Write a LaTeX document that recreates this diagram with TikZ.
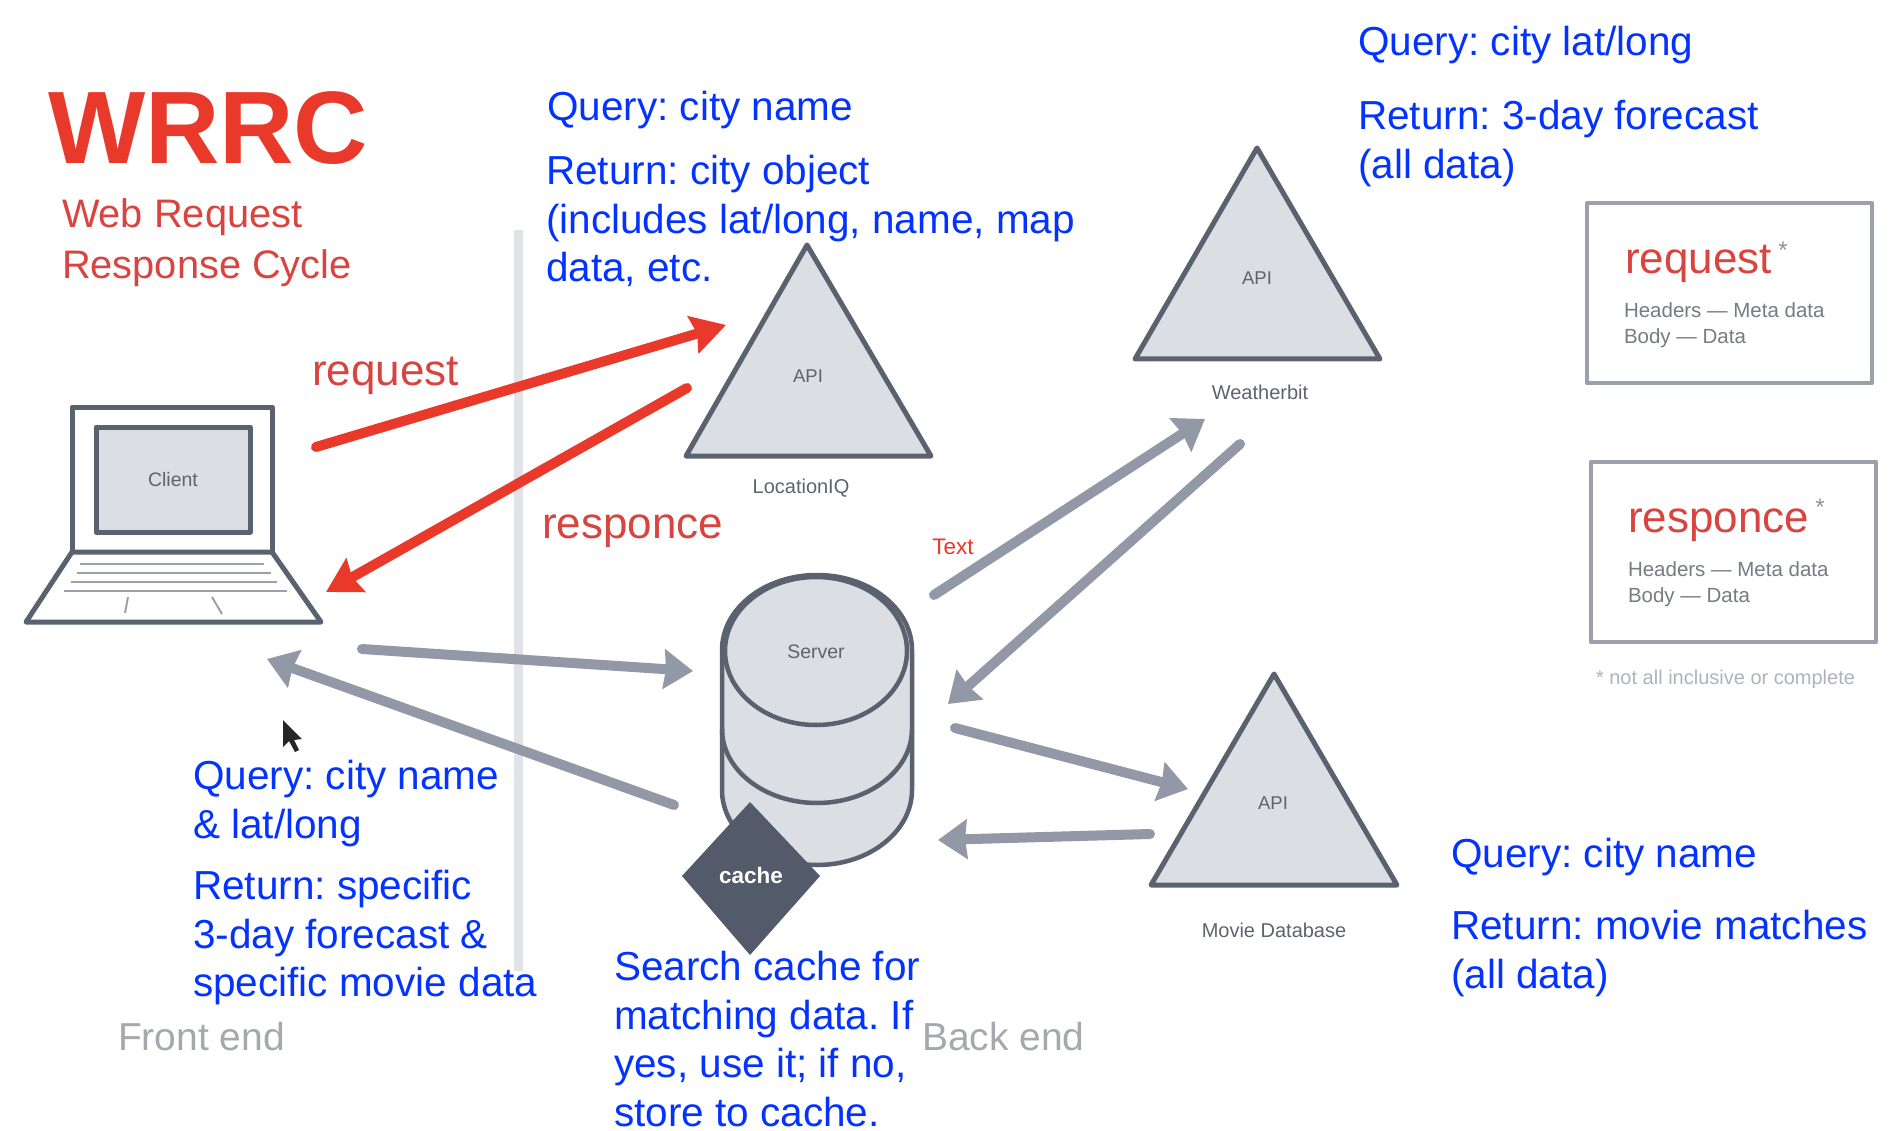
\documentclass[tikz,border=0pt]{standalone}
\usepackage{fontspec}
\setmainfont{Liberation Sans}
\usetikzlibrary{arrows.meta}
\definecolor{qblue}{HTML}{0433FF}
\definecolor{wred}{HTML}{E8392A}
\definecolor{sred}{HTML}{D8443F}
\definecolor{outline}{HTML}{5A6270}
\definecolor{shapefill}{HTML}{DBDEE2}
\definecolor{dividergray}{HTML}{E1E3E7}
\definecolor{arrowgray}{HTML}{9298A5}
\definecolor{dark}{HTML}{535B6B}
\definecolor{labelgray}{HTML}{5F646C}
\definecolor{sidegray}{HTML}{A5A8AD}
\definecolor{boxgray}{HTML}{9AA0AC}
\newcommand{\fsz}[1]{\fontsize{#1}{#1}\selectfont}
\frenchspacing
\tikzset{
  txt/.style={inner sep=0pt,outer sep=0pt},
  bluetext/.style={txt,anchor=north west,align=left,text=qblue,font=\fontsize{40.5}{48.5}\selectfont\frenchspacing},
  shapelabel/.style={txt,text=labelgray,font=\fsz{19.5}},
  apilabel/.style={txt,text=labelgray,font=\fsz{18.5}},
  redlabel/.style={txt,anchor=base west,text=sred,font=\fsz{44}},
  sidelabel/.style={txt,anchor=base west,text=sidegray,font=\fsz{39}},
  infolabel/.style={txt,anchor=base west,text=labelgray!85,font=\fsz{20.5}},
  starlabel/.style={txt,text=labelgray!70,font=\fsz{24}},
  apishape/.style={draw=outline,fill=shapefill,line width=5pt,line join=round},
  infobox/.style={draw=boxgray,line width=4.5pt,line join=round},
  redarrow/.style={draw=wred,line width=10pt,line cap=round,-{Stealth[length=34pt,width=38pt,inset=4pt]}},
  grayarrow/.style={draw=arrowgray,line width=10pt,line cap=round,-{Stealth[length=29pt,width=39pt,inset=2pt]}},
}
\begin{document}
\begin{tikzpicture}[x=1pt,y=-1pt]
\useasboundingbox (0,0) rectangle (1903,1131);
\fill[white] (0,0) rectangle (1903,1131);

% divider
\draw[dividergray,line width=9pt] (518,230) -- (518,971);

% titles
\node[txt,anchor=base west,text=wred,font=\fsz{103}\bfseries] (title) at (48,164) {WRRC};
\node[txt,anchor=base west,text=sred,font=\fsz{39.8}] (sub1) at (62,228) {Web Request};
\node[txt,anchor=base west,text=sred,font=\fsz{39.8}] (sub2) at (62,279) {Response Cycle};

% laptop
\draw[outline,line width=5pt,line join=round] (72,552) -- (72,407) -- (272,407) -- (272,552);
\draw[outline,fill=shapefill,line width=5pt,line join=round] (96,427) rectangle (250,532);
\draw[outline,line width=5pt,line join=round] (72,552) -- (272,552) -- (321,622) -- (26,622) -- cycle;
\foreach \y/\a/\b in {564/80/264,573/77/271,582/71/277,591/64/287}
  \draw[boxgray,line width=2pt] (\a,\y) -- (\b,\y);
\draw[boxgray,line width=2pt] (128,597) -- (125,613);
\draw[boxgray,line width=2pt] (212,597) -- (222,614);
\node[shapelabel] (client) at (173,480) {Client};

% triangles
\draw[apishape] (807,245) -- (931,456) -- (686,456) -- cycle;
\node[apilabel] (api1) at (808,376) {API};
\node[shapelabel,font=\fsz{20}] (locationiq) at (801,488) {LocationIQ};
\draw[apishape] (1257,148) -- (1380,359) -- (1135,359) -- cycle;
\node[apilabel] (api2) at (1257,278) {API};
\node[shapelabel,font=\fsz{20}] (weatherbit) at (1260,392) {Weatherbit};
\draw[apishape] (1274,674) -- (1397,885) -- (1151,885) -- cycle;
\node[apilabel] (api3) at (1273,803) {API};
\node[shapelabel,font=\fsz{20}] (moviedb) at (1274,930) {Movie Database};

% server
\draw[outline,fill=shapefill,line width=4.5pt] (722,650) -- (722,790)
  arc[start angle=180,end angle=360,x radius=95pt,y radius=75pt] -- (912,650)
  arc[start angle=0,end angle=180,x radius=95pt,y radius=75pt] -- cycle;
\draw[outline,line width=4.5pt] (722,729) arc[start angle=180,end angle=360,x radius=95pt,y radius=74pt];
\draw[outline,fill=shapefill,line width=4.5pt] (816,651) ellipse[x radius=91pt,y radius=74pt];
\node[shapelabel] (server) at (816,652) {Server};

% cache
\fill[dark] (750,802) -- (820,876) -- (750,955) -- (682,876) -- cycle;
\node[txt,text=white,font=\fsz{22.5}\bfseries] (cache) at (751,875) {cache};

% connector ends
\coordinate (clientReqOut) at (316,447);
\coordinate (locReqIn) at (726,325);
\coordinate (locRespOut) at (687,388);
\coordinate (clientRespIn) at (326,592);
\coordinate (clientOut) at (362,649);
\coordinate (serverIn) at (693,671);
\coordinate (serverOut) at (674,805);
\coordinate (clientIn) at (267,659);
\coordinate (serverToW) at (934,595);
\coordinate (wIn) at (1205,419);
\coordinate (wOut) at (1240,444);
\coordinate (serverFromW) at (948,704);
\coordinate (serverToM) at (955,728);
\coordinate (mIn) at (1188,789);
\coordinate (mOut) at (1150,834);
\coordinate (serverFromM) at (938,840);

% arrows
\draw[redarrow] (clientReqOut) -- (locReqIn);
\draw[redarrow] (locRespOut) -- (clientRespIn);
\draw[grayarrow] (clientOut) -- (serverIn);
\draw[grayarrow] (serverOut) -- (clientIn);
\draw[grayarrow] (serverToW) -- (wIn);
\draw[grayarrow] (wOut) -- (serverFromW);
\draw[grayarrow] (serverToM) -- (mIn);
\draw[grayarrow] (mOut) -- (serverFromM);

% red labels
\node[redlabel] (requestlbl) at (312,385) {request};
\node[redlabel] (responcelbl) at (542,538) {responce};
\node[txt,text=wred,font=\fsz{22.5}] (textlbl) at (953,547) {Text};

% side labels
\node[sidelabel] (front) at (118,1050) {Front end};
\node[sidelabel] (back) at (922,1050) {Back end};

% info boxes
\draw[infobox] (1587,203) rectangle (1872,383);
\node[redlabel] (req2) at (1625,274) {request};
\node[starlabel] (star1) at (1783,250) {*};
\node[infolabel] (req2a) at (1624,318) {Headers — Meta data};
\node[infolabel] (req2b) at (1624,344) {Body — Data};
\draw[infobox] (1591,462) rectangle (1876,642);
\node[redlabel] (resp2) at (1628,532) {responce};
\node[starlabel] (star2) at (1820,507) {*};
\node[infolabel] (resp2a) at (1628,576) {Headers — Meta data};
\node[infolabel] (resp2b) at (1628,602) {Body — Data};
\node[txt,anchor=base west,text=boxgray!80,font=\fsz{20}] (note) at (1596,684) {* not all inclusive or complete};

% cursor
\fill[black!85] (283,720) -- (283,747) -- (289,741) -- (295,752) -- (299,750) -- (294,740) -- (302,739) -- cycle;

% blue annotations
\node[bluetext] (q1) at (547,87) {\strut Query: city name};
\node[bluetext] (r1) at (546,151) {\strut Return: city object\\(includes lat/long, name, map\\data, etc.};
\node[bluetext] (q2) at (1358,22) {\strut Query: city lat/long};
\node[bluetext] (r2) at (1358,96) {\strut Return: 3-day forecast\\(all data)};
\node[bluetext] (q3) at (193,756) {\strut Query: city name\\\& lat/long};
\node[bluetext] (r3) at (193,866) {\strut Return: specific\\3-day forecast \&\\specific movie data};
\node[bluetext] (c4) at (614,947) {\strut Search cache for\\matching data. If\\yes, use it; if no,\\store to cache.};
\node[bluetext] (q5) at (1451,834) {\strut Query: city name};
\node[bluetext] (r5) at (1451,906) {\strut Return: movie matches\\(all data)};
\end{tikzpicture}
\end{document}
